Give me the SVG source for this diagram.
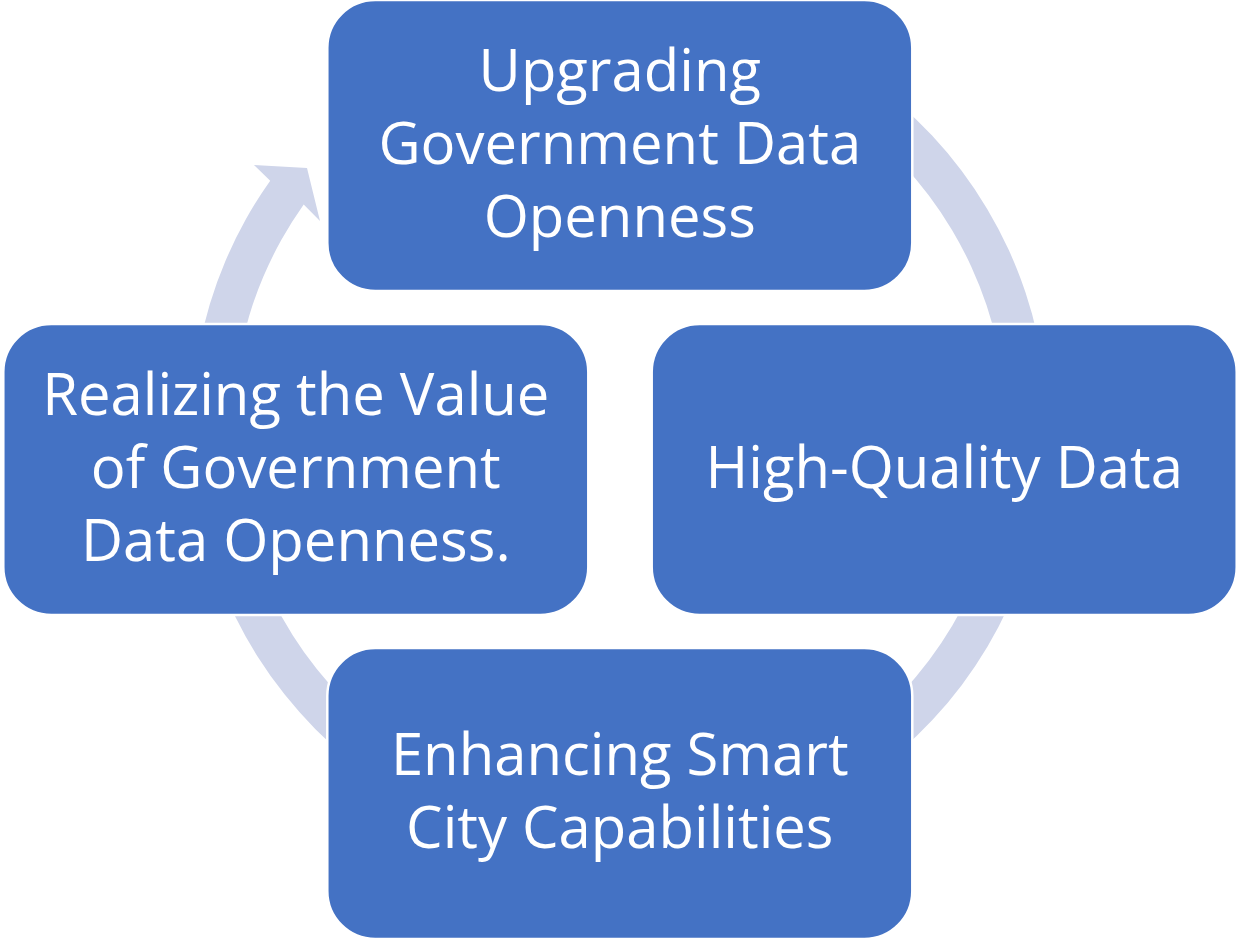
<svg xmlns="http://www.w3.org/2000/svg" width="1237" height="940" viewBox="0 0 1237 940">
  <style>
    .box { fill: #4472C4; stroke: #FFFFFF; stroke-width: 2.5; }
    .lbl { fill: #FFFFFF; font-family: "Open Sans", "Liberation Sans", sans-serif; font-size: 58px; text-anchor: middle; }
    .ring { fill: #CFD5EA; stroke: none; }
  </style>
  <rect width="1237" height="940" fill="#FFFFFF"/>
  <g id="connectors">
    <path class="ring" d="M 693.8 6.5 A 428 428 0 1 1 270.2 180.7 L 254 165 L 307 168 L 320 221 L 303.7 204.4 A 387 387 0 1 0 686.7 46.9 Z"/>
  </g>
  <g id="node-upgrading">
    <rect class="box" x="327.3" y="0" width="585" height="291" rx="48" ry="48"/>
    <text class="lbl"><tspan x="619.8" y="91">Upgrading</tspan><tspan x="619.8" y="164">Government Data</tspan><tspan x="619.8" y="237">Openness</tspan></text>
  </g>
  <g id="node-quality">
    <rect class="box" x="651.7" y="324" width="585" height="291" rx="48" ry="48"/>
    <text class="lbl" x="944.2" y="488">High-Quality Data</text>
  </g>
  <g id="node-smartcity">
    <rect class="box" x="327.3" y="648" width="585" height="291" rx="48" ry="48"/>
    <text class="lbl"><tspan x="619.8" y="775">Enhancing Smart</tspan><tspan x="619.8" y="848">City Capabilities</tspan></text>
  </g>
  <g id="node-value">
    <rect class="box" x="3.3" y="324" width="585" height="291" rx="48" ry="48"/>
    <text class="lbl"><tspan x="295.8" y="415">Realizing the Value</tspan><tspan x="295.8" y="488">of Government</tspan><tspan x="295.8" y="561">Data Openness.</tspan></text>
  </g>
</svg>
